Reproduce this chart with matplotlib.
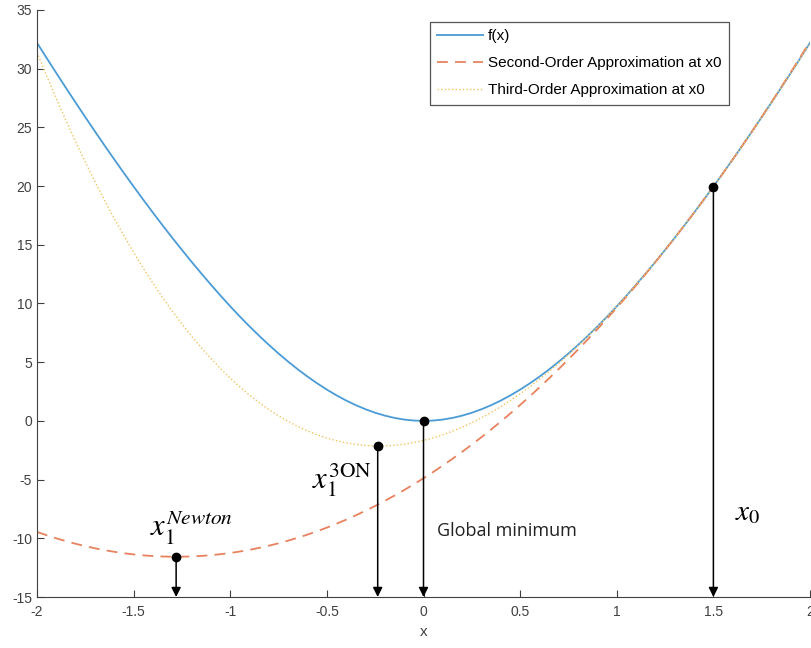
import matplotlib
matplotlib.use('Agg')
import matplotlib.pyplot as plt
import numpy as np

plt.rcParams['axes.unicode_minus'] = False
plt.rcParams['mathtext.fontset'] = 'stix'

# values, x = -2 .. 2 in steps of 0.05
x_vals = [-2.00, -1.95, -1.90, -1.85, -1.80, -1.75, -1.70, -1.65, -1.60, -1.55,
          -1.50, -1.45, -1.40, -1.35, -1.30, -1.25, -1.20, -1.15, -1.10, -1.05,
          -1.00, -0.95, -0.90, -0.85, -0.80, -0.75, -0.70, -0.65, -0.60, -0.55,
          -0.50, -0.45, -0.40, -0.35, -0.30, -0.25, -0.20, -0.15, -0.10, -0.05,
          0.00, 0.05, 0.10, 0.15, 0.20, 0.25, 0.30, 0.35, 0.40, 0.45,
          0.50, 0.55, 0.60, 0.65, 0.70, 0.75, 0.80, 0.85, 0.90, 0.95,
          1.00, 1.05, 1.10, 1.15, 1.20, 1.25, 1.30, 1.35, 1.40, 1.45,
          1.50, 1.55, 1.60, 1.65, 1.70, 1.75, 1.80, 1.85, 1.90, 1.95, 2.00]
f_vals = [32.205, 30.909, 29.628, 28.360, 27.109, 25.873, 24.654, 23.453, 22.270, 21.106,
          19.962, 18.838, 17.735, 16.654, 15.596, 14.561, 13.550, 12.563, 11.602, 10.667,
          9.758, 8.882, 8.045, 7.242, 6.473, 5.740, 5.044, 4.388, 3.771, 3.196,
          2.664, 2.176, 1.734, 1.339, 0.992, 0.694, 0.448, 0.254, 0.114, 0.029,
          0.0, 0.029, 0.114, 0.254, 0.448, 0.694, 0.992, 1.339, 1.734, 2.176,
          2.664, 3.196, 3.771, 4.388, 5.044, 5.740, 6.473, 7.242, 8.045, 8.882,
          9.758, 10.667, 11.602, 12.563, 13.550, 14.561, 15.596, 16.654, 17.735, 18.838,
          19.962, 21.106, 22.270, 23.453, 24.654, 25.873, 27.109, 28.360, 29.628, 30.909, 32.205]
second_vals = [-9.455, -9.739, -10.002, -10.244, -10.467, -10.669, -10.850, -11.011, -11.152, -11.273,
               -11.373, -11.452, -11.511, -11.550, -11.568, -11.566, -11.544, -11.501, -11.438, -11.354,
               -11.250, -11.126, -10.981, -10.816, -10.630, -10.424, -10.197, -9.951, -9.683, -9.396,
               -9.088, -8.759, -8.410, -8.041, -7.652, -7.242, -6.811, -6.360, -5.889, -5.397,
               -4.885, -4.353, -3.800, -3.227, -2.633, -2.019, -1.385, -0.730, -0.055, 0.641,
               1.357, 2.094, 2.850, 3.628, 4.425, 5.243, 6.082, 6.941, 7.820, 8.719,
               9.639, 10.580, 11.541, 12.522, 13.524, 14.546, 15.588, 16.651, 17.734, 18.838,
               19.962, 21.106, 22.271, 23.456, 24.662, 25.888, 27.135, 28.401, 29.689, 30.996, 32.324]
third_vals = [31.400, 29.394, 27.455, 25.584, 23.781, 22.046, 20.378, 18.776, 17.239, 15.766,
              14.358, 13.014, 11.732, 10.511, 9.352, 8.254, 7.214, 6.234, 5.312, 4.448,
              3.641, 2.889, 2.193, 1.552, 0.965, 0.431, -0.049, -0.480, -0.857, -1.186,
              -1.464, -1.693, -1.873, -2.007, -2.094, -2.134, -2.129, -2.079, -1.986, -1.848,
              -1.669, -1.448, -1.185, -0.882, -0.539, -0.158, 0.262, 0.719, 1.213, 1.744,
              2.310, 2.910, 3.545, 4.213, 4.913, 5.645, 6.409, 7.203, 8.026, 8.878,
              9.758, 10.667, 11.602, 12.563, 13.550, 14.561, 15.596, 16.654, 17.735, 18.838,
              19.962, 21.106, 22.270, 23.453, 24.654, 25.873, 27.109, 28.360, 29.628, 30.909, 32.205]

# marked points: Newton step, third-order step, global minimum, x0
pt_x = [-1.28, -0.237, 0.0, 1.5]
pt_y = [-11.57, -2.13, 0.0, 19.96]

fig = plt.figure(figsize=(8.11, 6.48), dpi=100)
ax = fig.add_axes([0.0456, 0.0787, 0.9532, 0.9059])

ax.plot(x_vals, f_vals, color='#4a9bd6', lw=1.3, label='f(x)')
ax.plot(x_vals, second_vals, color='#e8825e', lw=1.3, linestyle=(0, (6, 4)),
        label='Second-Order Approximation at x0')
ax.plot(x_vals, third_vals, color='#f2c45e', lw=1.0, linestyle=(0, (1, 1.6)),
        label='Third-Order Approximation at x0')

for px, py in zip(pt_x, pt_y):
    ax.annotate('', xy=(px, -15), xytext=(px, py),
                arrowprops=dict(arrowstyle='-|>', color='black', lw=1.1,
                                mutation_scale=14, shrinkA=0, shrinkB=0),
                annotation_clip=False)
ax.plot(pt_x, pt_y, 'o', color='black', markersize=6, zorder=5)

ax.text(-1.415, -9.86, r'$x_1^{Newton}$', fontsize=22, ha='left', va='baseline')
ax.text(-0.575, -5.74, r'$x_1^{\mathrm{3ON}}$', fontsize=22, ha='left', va='baseline')
ax.text(1.612, -8.44, r'$x_0$', fontsize=21, ha='left', va='baseline')
ax.text(0.07, -9.8, 'Global minimum', fontsize=13, family='Open Sans',
        ha='left', va='baseline', color='#222222')

ax.set_xlim(-2, 2)
ax.set_ylim(-15, 35)
ax.set_xticks(np.arange(-2, 2.01, 0.5))
ax.set_xticklabels(['-2', '-1.5', '-1', '-0.5', '0', '0.5', '1', '1.5', '2'])
ax.set_yticks(np.arange(-15, 36, 5))
ax.tick_params(direction='in', length=5, width=0.8, colors='#404040',
               labelsize=10, labelfontfamily='Liberation Sans')
ax.tick_params(axis='x', pad=6)
ax.set_xlabel('x', fontsize=11, color='#404040', family='Liberation Sans', labelpad=4)
for side in ['top', 'right']:
    ax.spines[side].set_visible(False)
for side in ['left', 'bottom']:
    ax.spines[side].set_color('#404040')
    ax.spines[side].set_linewidth(0.8)

leg = ax.legend(loc='upper left', bbox_to_anchor=(0.508, 0.98), borderaxespad=0,
                prop={'family': 'Liberation Sans', 'size': 11}, handlelength=3.0,
                labelspacing=0.85, handletextpad=0.3, borderpad=0.5, fancybox=False,
                framealpha=1)
leg.get_frame().set_edgecolor('#555555')
leg.get_frame().set_linewidth(0.9)

fig.savefig('out.png', dpi=100)
